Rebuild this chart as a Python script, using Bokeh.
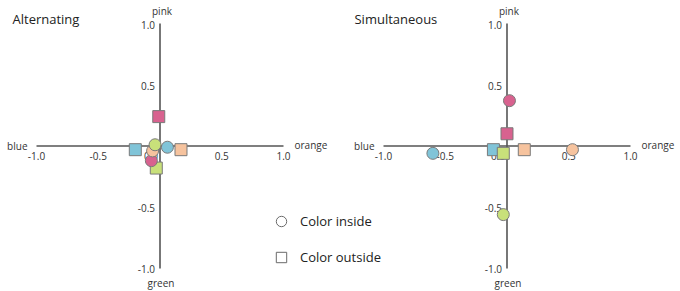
from bokeh.plotting import figure
from bokeh.models import Range1d, Legend, LegendItem, ColumnDataSource
from bokeh.core.properties import value
from bokeh.embed import file_html
from bokeh.resources import INLINE

# ---- data ----
colors = ["pink", "blue", "orange", "green"]
fill = {"pink": "#d8628f", "blue": "#80c4d8", "orange": "#f6c39e", "green": "#c8e07a"}

alt_inside_x = [-0.07, 0.06, -0.06, -0.04]
alt_inside_y = [-0.12, -0.01, -0.04, 0.01]
alt_outside_x = [-0.01, -0.20, 0.17, -0.03]
alt_outside_y = [0.24, -0.03, -0.03, -0.18]

sim_inside_x = [0.02, -0.60, 0.53, -0.03]
sim_inside_y = [0.37, -0.06, -0.03, -0.56]
sim_outside_x = [0.00, -0.11, 0.14, -0.03]
sim_outside_y = [0.10, -0.03, -0.03, -0.06]

tick_vals = [-1.0, -0.5, 0.0, 0.5, 1.0]
tick_labels = ["-1.0", "-0.5", "0.0", "0.5", "1.0"]
ytick_vals = [-1.0, -0.5, 0.5, 1.0]
ytick_labels = ["-1.0", "-0.5", "0.5", "1.0"]
titles = ["Alternating", "Simultaneous"]

FONTNAME = "Open Sans"
FONT = value(FONTNAME)
W, H = 680, 291

p = figure(width=W, height=H, output_backend="svg", toolbar_location=None,
           x_range=Range1d(-1.2915, 4.2146), y_range=Range1d(-1.1878, 1.1878),
           min_border=0, min_border_left=0, min_border_right=0,
           min_border_top=0, min_border_bottom=0)
p.extra_x_ranges = {"right": Range1d(-4.1012, 1.4049)}
p.axis.visible = False
p.grid.visible = False
p.outline_line_color = None
p.background_fill_color = "white"
p.border_fill_color = "white"

panels = [
    ("default", alt_inside_x, alt_inside_y, alt_outside_x, alt_outside_y),
    ("right", sim_inside_x, sim_inside_y, sim_outside_x, sim_outside_y),
]

axis_color = "#555555"
txt = "#333333"
for rn, ix, iy, ox, oy in panels:
    kw = {} if rn == "default" else {"x_range_name": "right"}
    # axes through origin
    p.segment(x0=[-1, 0], y0=[0, -1], x1=[1, 0], y1=[0, 1],
              line_color=axis_color, line_width=1.6, **kw)
    # x tick labels
    xl = [t for t in tick_labels if t != "0.0"]
    xv = [v for v, t in zip(tick_vals, tick_labels) if t != "0.0"]
    p.text(x=xv, y=[0] * len(xv), text=xl, text_font=FONT, text_font_size="10px",
           text_color=txt, text_align="center", text_baseline="middle",
           y_offset=10, **kw)
    p.text(x=[0], y=[0], text=["0.0"], text_font=FONT, text_font_size="10px",
           text_color=txt, text_align="right", text_baseline="middle",
           x_offset=-2, y_offset=10, **kw)
    # y tick labels
    p.text(x=[0] * len(ytick_vals), y=ytick_vals, text=ytick_labels, text_font=FONT,
           text_font_size="10px", text_color=txt, text_align="right",
           text_baseline="middle", x_offset=-5, y_offset=1, **kw)
    # axis end names
    p.text(x=[0], y=[1], text=["pink"], text_font=FONT, text_font_size="10px",
           text_color=txt, text_align="center", text_baseline="middle",
           x_offset=2, y_offset=-13, **kw)
    p.text(x=[0], y=[-1], text=["green"], text_font=FONT, text_font_size="10px",
           text_color=txt, text_align="center", text_baseline="middle",
           x_offset=1, y_offset=15, **kw)
    p.text(x=[-1], y=[0], text=["blue"], text_font=FONT, text_font_size="10px",
           text_color=txt, text_align="right", text_baseline="middle",
           x_offset=-9, y_offset=0, **kw)
    p.text(x=[1], y=[0], text=["orange"], text_font=FONT, text_font_size="10px",
           text_color=txt, text_align="left", text_baseline="middle",
           x_offset=11, y_offset=-1, **kw)
    # markers
    src_o = ColumnDataSource(dict(x=ox, y=oy, c=[fill[k] for k in colors]))
    src_i = ColumnDataSource(dict(x=ix, y=iy, c=[fill[k] for k in colors]))
    p.scatter("x", "y", source=src_o, marker="square", size=12, fill_color="c",
              line_color="#7a7a7a", line_width=1, **kw)
    p.scatter("x", "y", source=src_i, marker="circle", size=12, fill_color="c",
              line_color="#7a7a7a", line_width=1, **kw)

# titles (left-aligned above each panel)
p.text(x=[-1.0], y=[1.0], text=[titles[0]], text_font=FONT, text_font_size="13px",
       text_color="#222222", text_align="left", text_baseline="alphabetic",
       x_offset=-24, y_offset=-5)
p.text(x=[-1.0], y=[1.0], text=[titles[1]], text_font=FONT, text_font_size="13px",
       text_color="#222222", text_align="left", text_baseline="alphabetic",
       x_offset=-29, y_offset=-5, x_range_name="right")

# legend (dummy renderers with no visible points)
nan = float("nan")
r_in = p.scatter(x=[nan], y=[nan], marker="circle", size=10, fill_color="white",
                 line_color="#6a6a6a", line_width=1)
r_out = p.scatter(x=[nan], y=[nan], marker="square", size=10, fill_color="white",
                  line_color="#6a6a6a", line_width=1)
legend = Legend(items=[LegendItem(label="Color inside", renderers=[r_in]),
                       LegendItem(label="Color outside", renderers=[r_out])],
                location=(268, 21), glyph_width=26, glyph_height=26, spacing=10,
                padding=0, margin=0, label_standoff=6, border_line_color=None,
                background_fill_alpha=0, label_text_font=FONTNAME,
                label_text_font_size="13px", label_text_color="#222222")
p.add_layout(legend, "center")

open("out.html", "w").write(file_html(p, INLINE))
